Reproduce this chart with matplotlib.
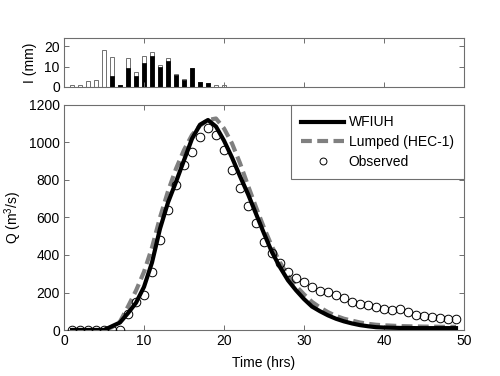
import matplotlib
matplotlib.use("Agg")
import matplotlib.pyplot as plt
import numpy as np

# Rainfall hyetograph
rain_t = list(range(1, 21))
rain_total = [1, 1, 3, 3.4, 18.3, 14.7, 1.1, 14, 7.5, 15.2, 17.3, 10.9, 14, 6.2, 3.75, 9.4, 2.3, 1.9, 0.9, 1.0]
rain_excess = [0, 0, 0, 0, 0, 5.6, 1.1, 9.2, 5.6, 12, 15.2, 9.7, 12.5, 5.8, 3.4, 9.4, 2.3, 1.9, 0, 0]

# Hydrographs
t_hours = list(range(1, 50))
wfiuh = [0, 0, 0, 0, 0, 20, 40, 90, 145, 230, 360, 540, 680, 790, 905, 1020, 1095, 1120, 1085, 1010,
         920, 820, 725, 620, 515, 415, 335, 265, 212, 165, 125, 100, 78, 60, 46, 35, 26, 20, 15, 13,
         12, 11, 11, 10, 10, 10, 10, 10, 10]
lumped = [0, 0, 0, 0, 0, 15, 45, 125, 210, 310, 440, 600, 740, 860, 960, 1040, 1090, 1120, 1128, 1075,
          995, 890, 770, 655, 545, 445, 360, 290, 235, 190, 150, 120, 95, 75, 60, 50, 40, 33, 28, 25,
          23, 21, 20, 19, 18, 18, 17, 17, 17]
observed = [0, 0, 0, 0, 0, 0, 0, 85, 150, 186, 310, 480, 640, 773, 880, 951, 1031, 1077, 1040, 960,
            853, 757, 661, 570, 471, 409, 360, 311, 280, 255, 231, 210, 202, 187, 170, 152, 140, 133, 122, 112,
            107, 110, 94, 82, 73, 67, 62, 60, 60]

FS = 10
plt.rcParams['font.family'] = ['Liberation Sans', 'DejaVu Sans']
plt.rcParams['font.size'] = FS
plt.rcParams['mathtext.fontset'] = 'custom'
plt.rcParams['mathtext.rm'] = 'Liberation Sans'

fig = plt.figure(figsize=(5.0, 3.76), dpi=100)
W, H = 500, 376
def rect(l, t, r, b):
    return [l / W, (H - b) / H, (r - l) / W, (b - t) / H]

spine_c = '#6e6e6e'

def style(ax):
    for s in ax.spines.values():
        s.set_color(spine_c)
        s.set_linewidth(0.8)
    ax.tick_params(direction='in', length=3.5, width=0.7, color=spine_c,
                   top=True, right=True, labelsize=FS, pad=3)

ax_r = fig.add_axes(rect(64, 38, 464, 87))
ax_q = fig.add_axes(rect(64, 105, 464, 330))

# rain
ax_r.bar(rain_t, rain_total, width=0.6, color='white', edgecolor='#707070', linewidth=0.7)
ax_r.bar(rain_t, rain_excess, width=0.6, color='black', edgecolor='black', linewidth=0.5)
ax_r.set_xlim(0, 50)
ax_r.set_ylim(0, 24)
ax_r.set_yticks([0, 10, 20])
ax_r.set_xticks([10, 20, 30, 40, 50])
ax_r.set_xticklabels([])
ax_r.set_ylabel('I (mm)')
ax_r.yaxis.set_label_coords(-0.068, 0.5)
style(ax_r)

# hydrographs
ax_q.plot(t_hours, wfiuh, color='black', lw=3.0, label='WFIUH', zorder=3)
ax_q.plot(t_hours, lumped, color='#808080', lw=3.0, dashes=(2.6, 1.3), label='Lumped (HEC-1)', zorder=2)
ax_q.plot(t_hours, observed, linestyle='none', marker='o', ms=6.2, mfc='none', mec='black',
          mew=0.7, label='Observed', zorder=4)
ax_q.set_xlim(0, 50)
ax_q.set_ylim(0, 1200)
ax_q.set_xticks([0, 10, 20, 30, 40, 50])
ax_q.set_yticks([0, 200, 400, 600, 800, 1000, 1200])
ax_q.set_xlabel('Time (hrs)')
ax_q.set_ylabel('Q (m$^3$/s)')
ax_q.yaxis.set_label_coords(-0.1, 0.5)
ax_q.xaxis.set_label_coords(0.5, -0.115)
style(ax_q)

leg = ax_q.legend(loc='upper right', bbox_to_anchor=(1.0, 1.0), frameon=True, fancybox=False,
                  edgecolor=spine_c, framealpha=1, handlelength=3.1, handletextpad=0.3,
                  borderaxespad=0.0, borderpad=0.75, labelspacing=0.4, fontsize=FS,
                  markerscale=0.8)
leg.get_frame().set_linewidth(0.8)

fig.savefig('out.png', dpi=100)
